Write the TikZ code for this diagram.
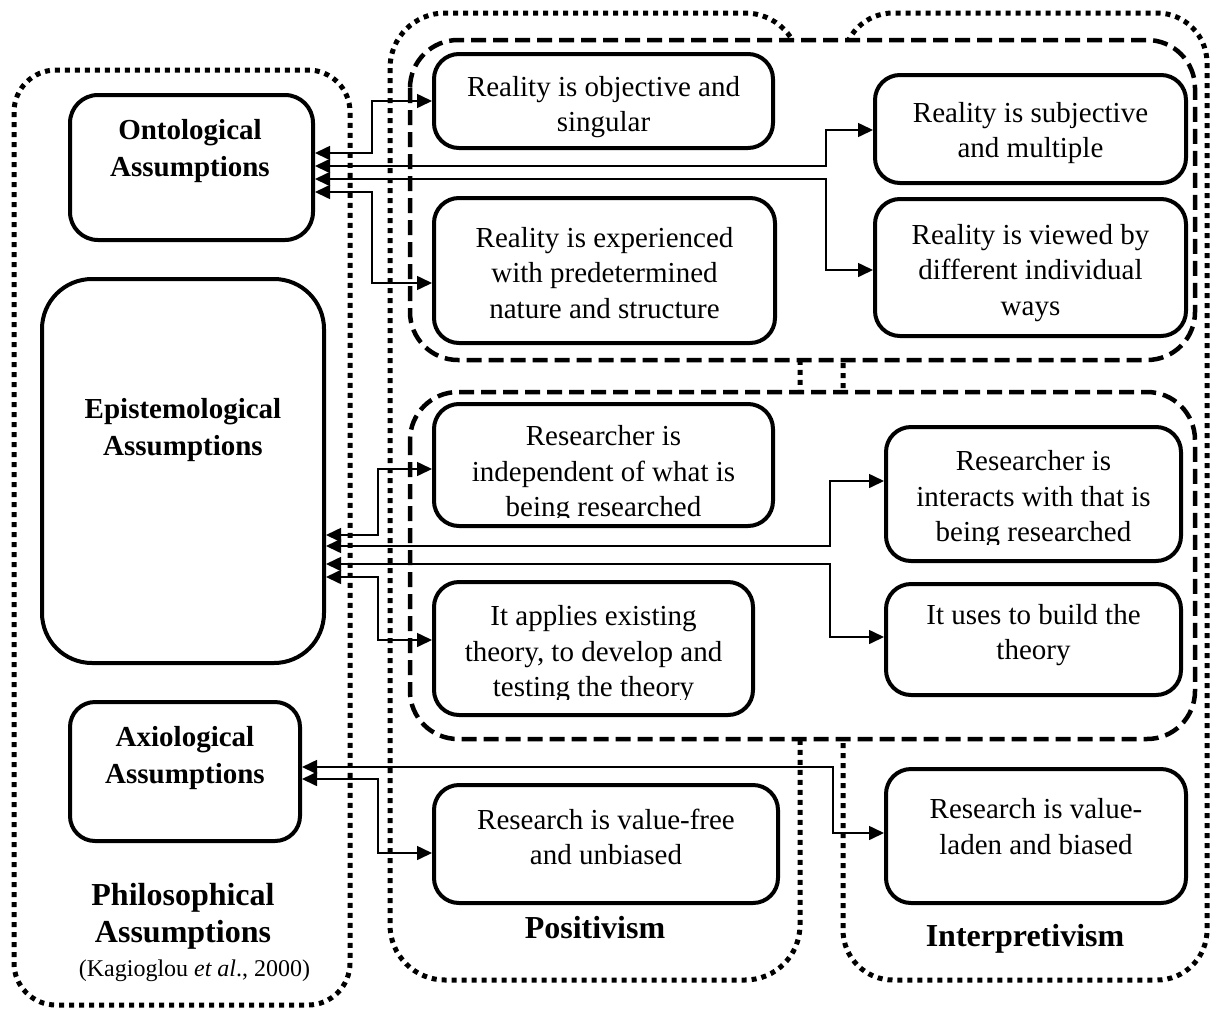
\documentclass[tikz,border=0pt]{standalone}
\usepackage{fontspec}
\setmainfont{Liberation Serif}
\usetikzlibrary{arrows.meta}
\begin{document}
\begin{tikzpicture}[x=1pt,y=-1pt,
  dotbox/.style={line width=5pt, dash pattern=on 5pt off 5pt, rounded corners=#1},
  dotbox/.default=45pt,
  dashbox/.style={line width=4.5pt, dash pattern=on 15pt off 7pt, fill=white, rounded corners=#1},
  dashbox/.default=48pt,
  sbox/.style={draw, rectangle, line width=4pt, fill=white, rounded corners=#1, inner sep=0pt},
  sbox/.default=25pt,
  txt/.style={align=center, inner sep=0pt, font=\fontsize{29}{35.5}\selectfont},
  hd/.style={align=center, inner sep=0pt, font=\fontsize{29}{37}\selectfont\bfseries},
  big/.style={align=center, inner sep=0pt, font=\fontsize{32}{37}\selectfont\bfseries},
  conn/.style={line width=1.6pt,
    arrows={Triangle[length=15pt,width=14pt]-Triangle[length=15pt,width=14pt]}}
]
\useasboundingbox (0,0) rectangle (1216,1010);

% paradigm groups (dotted)
\draw[dotbox=42pt] (14,70) rectangle (350,1005);
\draw[dotbox=55pt] (390,13) rectangle (800,980);
\draw[dotbox=50pt] (843,13) rectangle (1207,980);

% assumption layers (dashed)
\draw[dashbox] (410,40) rectangle (1195,360);
\draw[dashbox] (410,392) rectangle (1195,739);

% philosophical assumptions
\node[sbox=28pt, minimum width=243pt, minimum height=145pt] (onto) at (191.5,167.5) {};
\node[sbox=50pt, minimum width=282pt, minimum height=384pt] (epi) at (183,471) {};
\node[sbox, minimum width=230pt, minimum height=139pt] (axio) at (185,771.5) {};
\node[hd] (ontot) at (190,151.5) {Ontological\\Assumptions};
\node[hd] (epit) at (183,430) {Epistemological\\Assumptions};
\node[hd] (axiot) at (185,758) {Axiological\\Assumptions};
\node[big] (phil) at (183,916) {Philosophical\\Assumptions};
\node[align=center, inner sep=0pt, font=\fontsize{24}{28}\selectfont] (cite) at (194.5,971) {(Kagioglou \textit{et al}., 2000)};

% positivism
\node[sbox, minimum width=339pt, minimum height=94pt] (p1) at (603.5,101) {};
\node[sbox, minimum width=341pt, minimum height=145pt] (p2) at (604.5,270.5) {};
\node[sbox, minimum width=339pt, minimum height=122pt] (p3) at (603.5,465) {};
\node[sbox, minimum width=319pt, minimum height=133pt] (p4) at (593.5,648.5) {};
\node[sbox, minimum width=344pt, minimum height=118pt] (p5) at (606,844) {};
\node[txt] (p1t) at (603.5,107) {Reality is objective and\\singular};
\node[txt] (p2t) at (604.5,273) {Reality is experienced\\with predetermined\\nature and structure};
\begin{scope}
  \clip (432,402) rectangle (775,517);
  \node[txt] (p3t) at (603.5,474.5) {Researcher is\\independent of what is\\being researched};
\end{scope}
\begin{scope}
  \clip (432,580) rectangle (755,699);
  \node[txt] (p4t) at (593.5,654.5) {It applies existing\\theory, to develop and\\testing the theory};
\end{scope}
\node[txt] (p5t) at (606,837) {Research is value-free\\and unbiased};
\node[big] (pos) at (595,928) {Positivism};

% interpretivism
\node[sbox, minimum width=311pt, minimum height=108pt] (i1) at (1030.5,129) {};
\node[sbox, minimum width=311pt, minimum height=137pt] (i2) at (1030.5,267.5) {};
\node[sbox, minimum width=295pt, minimum height=134pt] (i3) at (1033.5,494) {};
\node[sbox, minimum width=295pt, minimum height=111pt] (i4) at (1033.5,639.5) {};
\node[sbox, minimum width=300pt, minimum height=134pt] (i5) at (1036,836) {};
\node[txt] (i1t) at (1030.5,133) {Reality is subjective\\and multiple};
\node[txt] (i2t) at (1030.5,273) {Reality is viewed by\\different individual\\ways};
\begin{scope}
  \clip (884,425) rectangle (1183,544);
  \node[txt] (i3t) at (1033.5,499.5) {Researcher is\\interacts with that is\\being researched};
\end{scope}
\node[txt] (i4t) at (1033.5,635) {It uses to build the\\theory};
\node[txt] (i5t) at (1036,826.5) {Research is value-\\laden and biased};
\node[big] (interp) at (1025,938.5) {Interpretivism};

% links between assumptions and paradigm statements
\draw[conn] (onto.east |- 0,153) -| (372,101) -- (p1.west |- 0,101);
\draw[conn] (onto.east |- 0,166) -| (826,130) -- (i1.west |- 0,130);
\draw[conn] (onto.east |- 0,179) -| (826,270) -- (i2.west |- 0,270);
\draw[conn] (onto.east |- 0,192) -| (372,283) -- (p2.west |- 0,283);

\draw[conn] (epi.east |- 0,535) -| (378,469) -- (p3.west |- 0,469);
\draw[conn] (epi.east |- 0,546) -| (830,481) -- (i3.west |- 0,481);
\draw[conn] (epi.east |- 0,564) -| (830,637) -- (i4.west |- 0,637);
\draw[conn] (epi.east |- 0,577) -| (378,640) -- (p4.west |- 0,640);

\draw[conn] (axio.east |- 0,767) -| (833,833) -- (i5.west |- 0,833);
\draw[conn] (axio.east |- 0,779) -| (378,853) -- (p5.west |- 0,853);
\end{tikzpicture}
\end{document}
